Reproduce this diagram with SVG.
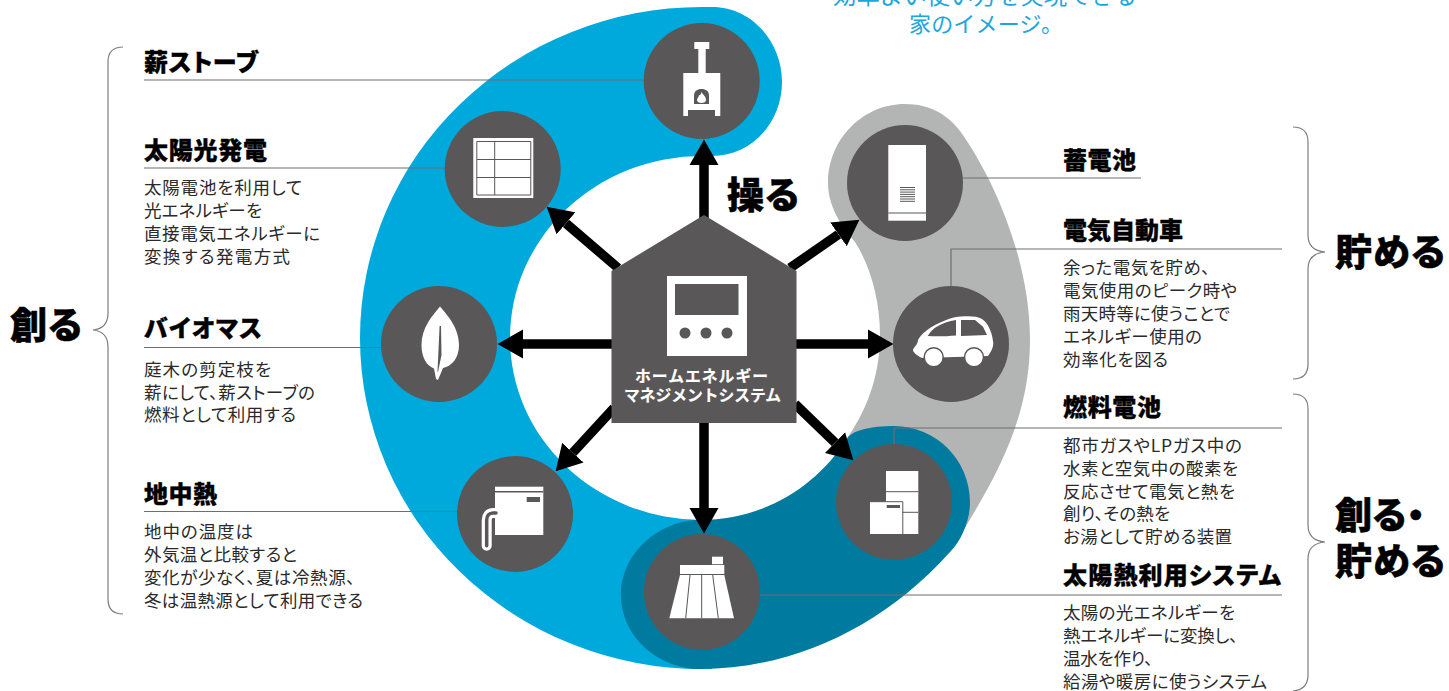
<svg xmlns="http://www.w3.org/2000/svg" width="1449" height="691" viewBox="0 0 1449 691">
<style>
.h{font-family:"Noto Sans CJK JP","Noto Sans",sans-serif;font-weight:900;font-size:24px;fill:#000;stroke:#000;stroke-width:.35;font-feature-settings:"palt"}
.b{font-family:"Noto Sans CJK JP","Noto Sans",serif;font-weight:400;font-size:17.5px;fill:#2a2a2a;font-feature-settings:"palt"}
.big{font-family:"Noto Sans CJK JP","Noto Sans",sans-serif;font-weight:900;font-size:37px;fill:#000;stroke:#000;stroke-width:.5;font-feature-settings:"palt"}
.top{font-family:"Noto Sans CJK JP","Noto Sans",serif;font-weight:400;fill:#1ba6dc}
.hw{font-family:"Noto Sans CJK JP","Noto Sans",sans-serif;font-weight:700;font-size:15.8px;fill:#fff;stroke:#fff;stroke-width:.2}
.c{fill:#595757}.w{fill:#fff}.d{stroke:#595757;fill:none}
.l{stroke:#6e6e6e;stroke-width:1.2;fill:none}
.br{stroke:#7d7d7d;stroke-width:1.2;fill:none}
.a{stroke:#000;stroke-width:9.5;fill:none;marker-end:url(#ah)}
</style>
<defs><marker id="ah" markerUnits="userSpaceOnUse" markerWidth="26" markerHeight="30" refX="0" refY="15" orient="auto"><path d="M0 0.5L25.5 15L0 29.5Z" fill="#000"/></marker></defs>
<rect width="1449" height="691" fill="#fff"/>
<g id="bands">
<path fill="#b3b5b4" d="M905 104C930 104 948 115 960 131C985 165 1030 250 1030 340C1030 420 995 480 950 552L848 437C870 405 880 370 880 335C880 300 870 265 855 242C840 225 828 205 828 183C828 140 862 104 905 104Z"/>
<path fill="#00a9dc" d="M702 7H712C752 7 782 42 782 82C782 122 752 156 712 156H702A192 182 0 0 0 510 338A192 182 0 0 0 702 520H712V669H702A342 331 0 0 1 360 338A342 331 0 0 1 702 7Z"/>
<path fill="#007ba0" d="M700 520C660 520 621 552 621 595C621 638 660 669 700 669C790 669 880 630 950 552C962 540 970 520 970 502C970 460 936 426 894 426C870 426 855 430 848 437C815 490 760 520 700 520Z"/>
</g>
<g id="connectors">
<path class="l" d="M144 80H645M144 168H445M144 347.500H382M144 511.500H458M963 178H1141M951 286V249H1282M894 444V428H1282M760 595H1282"/>
<path class="a" d="M704 220V165"/>
<path class="a" d="M618 268L566 223.300"/>
<path class="a" d="M615 344H523"/>
<path class="a" d="M795 344H868"/>
<path class="a" d="M790 268L838.500 234.300"/>
<path class="a" d="M704 420V508"/>
<path class="a" d="M614 408L572.900 452.600"/>
<path class="a" d="M795 404L835 442.600"/>
</g>
<g id="hems">
<path class="c" d="M611.500 271L704 215L796.500 271V423H611.500Z"/>
<rect class="w" x="667" y="276" width="80" height="80"/>
<rect class="c" x="675" y="284" width="63.500" height="31"/>
<circle class="c" cx="685" cy="333" r="5.500"/><circle class="c" cx="706" cy="333" r="5.500"/><circle class="c" cx="727" cy="333" r="5.500"/>
<text class="hw" x="635" y="382" textLength="133">ホームエネルギー</text>
<text class="hw" x="624" y="400.500" textLength="157">マネジメントシステム</text>
</g>
<g id="stove">
<circle class="c" cx="701.700" cy="81" r="58"/>
<path class="w" d="M694.300 42H709.300V49H705.700V73H720.300V116H715V110H688V116H683.300V73H698.300V49H694.300Z"/>
<path class="c" d="M694 104V96C694 91 697 89 701.500 89C706 89 709 91 709 96V104Z"/>
<path class="w" d="M701.500 92C703 95 706 96 706 100C706 102 704 103 701.500 103C699 103 697 102 697 100C697 98 699 97 699 95C700 96 701 94 701.500 92Z"/>
</g>
<g id="solar">
<circle class="c" cx="502.700" cy="169" r="58"/>
<rect class="w" x="473.300" y="138" width="60" height="60"/>
<path class="d" d="M476.800 141.500H530.800V195H476.800ZM494.700 141.500V195M476.800 159.500H530.800M476.800 177.500H530.800"/>
</g>
<g id="biomass">
<circle class="c" cx="439" cy="344" r="58"/>
<path class="w" d="M440 306.500C432 316 421.500 328 421.500 345C421.500 358 427 366 434 368.500L436 379L438 380L443 368C452 366 459 358 459 345C459 328 448 316 440 306.500Z"/>
<path class="c" d="M439.600 326L441 326L441.500 355L438 372L437.500 372Z"/>
</g>
<g id="geothermal">
<circle class="c" cx="515" cy="514" r="58"/>
<rect class="w" x="495" y="486.700" width="48.300" height="48.300"/>
<path class="d" stroke-width="1.500" d="M495 491.700H543.300"/>
<rect class="c" x="526.700" y="497" width="13.300" height="5"/>
<path fill="none" stroke="#fff" stroke-width="10" stroke-linecap="round" d="M496 513H493C489 513 486.700 516 486.700 520V545.700"/>
<path fill="none" stroke="#595757" stroke-width="3.500" stroke-linecap="round" d="M496 513H493C489 513 486.700 516 486.700 520V545.700"/>
</g>
<g id="solar-thermal">
<circle class="c" cx="702" cy="592" r="58"/>
<rect class="w" x="680" y="565" width="44.300" height="9"/>
<rect class="w" x="712" y="556.700" width="11" height="7.500"/>
<path class="w" d="M680 575H724.300L734 618.300H669.300Z"/>
<path class="d" stroke-width="1" d="M690 575L685.700 618.300M701.700 575V618.300M712.700 575L718.300 618.300"/>
</g>
<g id="fuel-cell">
<circle class="c" cx="894" cy="502" r="58"/>
<rect class="w" x="886" y="471" width="32.300" height="63"/>
<path class="d" stroke-width="1" d="M886 491.700H918.300M902 512.300H918.300"/>
<path class="w" d="M870 501.700H902.300V534H870Z"/>
<path class="d" stroke-width="1" d="M870 501.700H902.800V534"/>
<rect class="c" x="886.700" y="505" width="13.300" height="3"/>
</g>
<g id="ev">
<circle class="c" cx="951" cy="344" r="58"/>
<path class="w" d="M913 350C914 347 918 344 918 340C922 333 928 329 935 325C945 320 953 317 961 316.500C970 316 977 316 982 319C988 323 992 332 993 341C994 345 992 350 990 353L988 356L922 358C916 355 913 352 913 350Z"/>
<path class="c" d="M927.700 336C930 332 933 329 936.700 326.700C942 323.500 949 321 956 320V335.500C945 336.500 935 336.500 927.700 336ZM961 320H975L983 326.700L987 335L961 336Z"/>
<circle class="w" cx="933.700" cy="357.300" r="9.500" stroke="#595757" stroke-width="1.500"/>
<circle class="w" cx="974" cy="357.300" r="9.500" stroke="#595757" stroke-width="1.500"/>
</g>
<g id="battery">
<circle class="c" cx="905" cy="183" r="58"/>
<rect class="w" x="888.300" y="145" width="37.700" height="75.700"/>
<path class="d" stroke-width="1" d="M888.300 213H926"/>
<path class="d" stroke-width="1" d="M900 187.500H915M900 189.800H915M900 192.100H915M900 194.400H915M900 196.700H915M900 199H915M900 201.300H915"/>
</g>
<g id="braces">
<path class="br" d="M123 47C113 47 108 52 108 62V313C108 323 103 329 93 330C103 331 108 337 108 347V599C108 609 113 614 123 614"/>
<path class="br" d="M1293 127C1303 127 1308 132 1308 142V235C1308 245 1313 251 1325 252C1313 253 1308 259 1308 269V364C1308 374 1303 379 1293 379"/>
<path class="br" d="M1293 394C1303 394 1308 399 1308 409V525C1308 535 1313 541 1325 542C1313 543 1308 549 1308 559V675C1308 685 1303 690 1293 691"/>
</g>
<g id="labels">
<text class="top" x="833" y="4" font-size="23.400" textLength="304">効率よい使い方を実現できる</text>
<text class="top" x="909" y="32" font-size="22" textLength="154">家のイメージ。</text>
<text class="h" x="144" y="71" textLength="114">薪ストーブ</text>
<text class="h" x="144" y="159" textLength="123">太陽光発電</text>
<text class="b" x="144" y="194" textLength="158">太陽電池を利用して</text>
<text class="b" x="144" y="217" textLength="118">光エネルギーを</text>
<text class="b" x="144" y="240" textLength="176">直接電気エネルギーに</text>
<text class="b" x="144" y="263" textLength="146">変換する発電方式</text>
<text class="h" x="144" y="337" textLength="118">バイオマス</text>
<text class="b" x="144" y="376" textLength="127">庭木の剪定枝を</text>
<text class="b" x="144" y="399" textLength="171">薪にして、薪ストーブの</text>
<text class="b" x="144" y="421" textLength="152">燃料として利用する</text>
<text class="h" x="144" y="503" textLength="73">地中熱</text>
<text class="b" x="144" y="538" textLength="109">地中の温度は</text>
<text class="b" x="144" y="561" textLength="153">外気温と比較すると</text>
<text class="b" x="144" y="584" textLength="211">変化が少なく、夏は冷熱源、</text>
<text class="b" x="144" y="607" textLength="219">冬は温熱源として利用できる</text>
<text class="h" x="1063" y="169" textLength="73">蓄電池</text>
<text class="h" x="1063" y="239" textLength="120">電気自動車</text>
<text class="b" x="1063" y="274" textLength="147">余った電気を貯め、</text>
<text class="b" x="1063" y="297" textLength="174">電気使用のピーク時や</text>
<text class="b" x="1063" y="320" textLength="167">雨天時等に使うことで</text>
<text class="b" x="1063" y="343" textLength="139">エネルギー使用の</text>
<text class="b" x="1063" y="366" textLength="105">効率化を図る</text>
<text class="h" x="1063" y="416" textLength="98">燃料電池</text>
<text class="b" x="1063" y="452" textLength="179">都市ガスやLPガス中の</text>
<text class="b" x="1063" y="475" textLength="175">水素と空気中の酸素を</text>
<text class="b" x="1063" y="498" textLength="172">反応させて電気と熱を</text>
<text class="b" x="1063" y="520" textLength="107">創り、その熱を</text>
<text class="b" x="1063" y="543" textLength="169">お湯として貯める装置</text>
<text class="h" x="1063" y="584" textLength="218">太陽熱利用システム</text>
<text class="b" x="1063" y="619" textLength="172">太陽の光エネルギーを</text>
<text class="b" x="1063" y="642" textLength="175">熱エネルギーに変換し、</text>
<text class="b" x="1063" y="665" textLength="90">温水を作り、</text>
<text class="b" x="1063" y="688" textLength="204">給湯や暖房に使うシステム</text>
<text class="big" x="10" y="339" textLength="72">創る</text>
<text class="big" x="727" y="209" textLength="72">操る</text>
<text class="big" x="1335" y="266" textLength="110">貯める</text>
<text class="big" x="1335" y="529" textLength="90">創る・</text>
<text class="big" x="1335" y="575" textLength="110">貯める</text>
</g>
</svg>
